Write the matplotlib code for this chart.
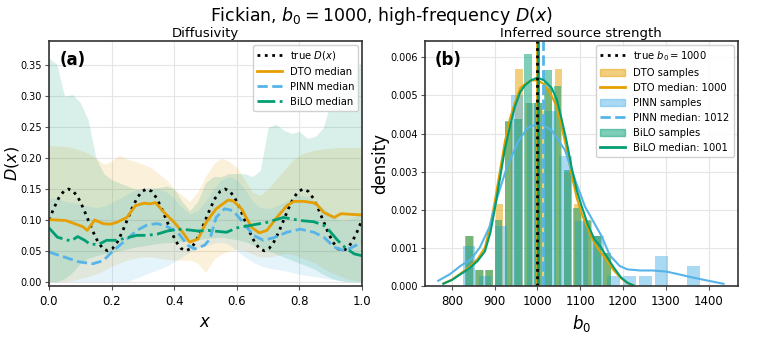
import numpy as np
import matplotlib.pyplot as plt
from matplotlib.patches import Patch
from matplotlib.lines import Line2D

c_dto = '#E69F00'
c_pinn = '#56B4E9'
c_bilo = '#009E73'

# ---- panel (a): diffusivity ----
x_true = np.linspace(0, 1, 65)
D_true = [0.1, 0.1191, 0.1354, 0.1462, 0.15, 0.1462, 0.1354, 0.1191, 0.1, 0.0809, 0.0646, 0.0538, 0.05, 0.0538, 0.0646, 0.0809,
          0.1, 0.1191, 0.1354, 0.1462, 0.15, 0.1462, 0.1354, 0.1191, 0.1, 0.0809, 0.0646, 0.0538, 0.05, 0.0538, 0.0646, 0.0809,
          0.1, 0.1191, 0.1354, 0.1462, 0.15, 0.1462, 0.1354, 0.1191, 0.1, 0.0809, 0.0646, 0.0538, 0.05, 0.0538, 0.0646, 0.0809,
          0.1, 0.1191, 0.1354, 0.1462, 0.15, 0.1462, 0.1354, 0.1191, 0.1, 0.0809, 0.0646, 0.0538, 0.05, 0.0538, 0.0646, 0.0809,
          0.1]

x_dto = [0, 0.054, 0.108, 0.122, 0.146, 0.173, 0.195, 0.216, 0.249, 0.276, 0.303, 0.324, 0.34, 0.368, 0.4, 0.427, 0.449,
         0.476, 0.502, 0.534, 0.572, 0.588, 0.615, 0.647, 0.672, 0.696, 0.728, 0.76, 0.782, 0.814, 0.852, 0.878, 0.911,
         0.933, 0.965, 1.0]
D_dto = [0.1005, 0.099, 0.089, 0.083, 0.1, 0.094, 0.093, 0.096, 0.104, 0.123, 0.127, 0.126, 0.128, 0.112, 0.096, 0.08, 0.064,
         0.069, 0.096, 0.118, 0.132, 0.131, 0.118, 0.088, 0.079, 0.083, 0.104, 0.123, 0.13, 0.13, 0.127, 0.112, 0.104,
         0.11, 0.109, 0.108]

x_pinn = [0, 0.054, 0.097, 0.14, 0.173, 0.205, 0.238, 0.281, 0.314, 0.346, 0.378, 0.411, 0.443, 0.465, 0.497, 0.514,
          0.534, 0.561, 0.588, 0.62, 0.653, 0.685, 0.717, 0.76, 0.803, 0.846, 0.878, 0.911, 0.944, 0.97, 1.0]
D_pinn = [0.048, 0.039, 0.032, 0.029, 0.034, 0.05, 0.064, 0.083, 0.092, 0.094, 0.089, 0.08, 0.059, 0.053, 0.059, 0.069,
          0.104, 0.118, 0.115, 0.096, 0.075, 0.067, 0.071, 0.08, 0.085, 0.08, 0.072, 0.056, 0.05, 0.056, 0.064]

x_bilo = [0, 0.027, 0.054, 0.07, 0.092, 0.114, 0.13, 0.157, 0.184, 0.216, 0.249, 0.281, 0.314, 0.346, 0.378, 0.411, 0.443,
          0.476, 0.508, 0.567, 0.6, 0.642, 0.696, 0.749, 0.771, 0.803, 0.846, 0.878, 0.895, 0.922, 0.944, 0.975, 1.0]
D_bilo = [0.087, 0.072, 0.068, 0.066, 0.073, 0.067, 0.061, 0.06, 0.067, 0.067, 0.071, 0.075, 0.075, 0.077, 0.082, 0.085, 0.084,
          0.082, 0.083, 0.08, 0.087, 0.091, 0.096, 0.104, 0.102, 0.099, 0.097, 0.091, 0.083, 0.067, 0.056, 0.045, 0.042]

x_band = np.linspace(0, 1, 41)
dto_hi = [0.22, 0.22, 0.219, 0.217, 0.213, 0.208, 0.2, 0.19, 0.195, 0.205, 0.198, 0.195, 0.19, 0.185, 0.175, 0.165, 0.15,
          0.14, 0.13, 0.145, 0.17, 0.19, 0.2, 0.195, 0.185, 0.165, 0.145, 0.14, 0.15, 0.165, 0.18, 0.195, 0.205, 0.21,
          0.213, 0.215, 0.216, 0.217, 0.217, 0.217, 0.217]
dto_lo = [0.0, 0.0, 0.0, 0.002, 0.005, 0.008, 0.012, 0.018, 0.025, 0.03, 0.035, 0.038, 0.04, 0.04, 0.038, 0.036, 0.035,
          0.035, 0.035, 0.03, 0.015, 0.035, 0.045, 0.05, 0.052, 0.05, 0.045, 0.04, 0.04, 0.042, 0.045, 0.045, 0.04, 0.035,
          0.03, 0.022, 0.015, 0.01, 0.005, 0.002, 0.0]
pinn_hi = [0.135, 0.135, 0.13, 0.128, 0.125, 0.122, 0.12, 0.122, 0.128, 0.135, 0.142, 0.148, 0.152, 0.153, 0.15, 0.145,
           0.135, 0.12, 0.11, 0.115, 0.13, 0.15, 0.165, 0.17, 0.165, 0.15, 0.13, 0.12, 0.118, 0.122, 0.128, 0.135, 0.14,
           0.138, 0.13, 0.12, 0.11, 0.1, 0.1, 0.105, 0.11]
pinn_lo = [0.0, 0.0, 0.0, 0.0, 0.0, 0.0, 0.0, 0.0, 0.0, 0.0, 0.0, 0.005, 0.01, 0.015, 0.02, 0.025, 0.032, 0.04, 0.048,
           0.054, 0.058, 0.062, 0.064, 0.06, 0.05, 0.04, 0.032, 0.026, 0.022, 0.02, 0.018, 0.015, 0.012, 0.01, 0.008,
           0.006, 0.004, 0.002, 0.0, 0.0, 0.0]
bilo_hi = [0.362, 0.352, 0.3, 0.303, 0.29, 0.262, 0.2, 0.175, 0.165, 0.16, 0.155, 0.15, 0.148, 0.15, 0.152, 0.155, 0.15,
           0.13, 0.115, 0.13, 0.16, 0.17, 0.17, 0.175, 0.175, 0.175, 0.17, 0.18, 0.25, 0.255, 0.245, 0.24, 0.243, 0.232,
           0.235, 0.248, 0.29, 0.305, 0.315, 0.33, 0.36]
bilo_lo = [0.0, 0.0, 0.005, 0.015, 0.03, 0.038, 0.042, 0.045, 0.047, 0.05, 0.053, 0.056, 0.058, 0.06, 0.062, 0.063, 0.064,
           0.065, 0.066, 0.068, 0.07, 0.071, 0.072, 0.07, 0.068, 0.065, 0.06, 0.055, 0.05, 0.045, 0.04, 0.035, 0.03, 0.025,
           0.02, 0.012, 0.006, 0.002, 0.0, 0.0, 0.0]

# ---- panel (b): source strength ----
b0_true = 1000
med_dto, med_pinn, med_bilo = 1000, 1012, 1001

bins_dto = [842, 865, 888, 911, 934, 957, 980, 1003, 1026, 1049, 1072, 1095, 1118, 1141, 1164]
h_dto = [0.0013, 0.0004, 0.0004, 0.00215, 0.0043, 0.0057, 0.0048, 0.0048, 0.0052, 0.0057, 0.0030, 0.00216, 0.0017,
         0.0013, 0.00085]
bins_pinn = [840, 877.5, 915, 952.5, 990, 1027.5, 1065, 1102.5, 1140, 1177.5, 1215, 1252.5, 1290, 1327.5, 1365]
h_pinn = [0.00104, 0.00025, 0.00158, 0.005, 0.0048, 0.0046, 0.0034, 0.0017, 0.0013, 0.00025, 0.00025, 0.00025, 0.00078,
          0.0, 0.00052]
bins_bilo = [840, 863, 886, 909, 932, 955, 978, 1001, 1024, 1047, 1070, 1093, 1116, 1139, 1162]
h_bilo = [0.0013, 0.00041, 0.00041, 0.00172, 0.00434, 0.00438, 0.0061, 0.0048, 0.00568, 0.00525, 0.00303, 0.00205,
          0.00172, 0.0013, 0.00085]

kde_x = [780, 800, 820, 840, 860, 877, 890, 900, 912, 924, 936, 947, 960, 971, 985, 1000, 1015, 1033, 1045, 1056, 1068,
         1080, 1092, 1103, 1118, 1134, 1146, 1160, 1177, 1195, 1210, 1224]
kde_dto = [0.00006, 0.00016, 0.00032, 0.00048, 0.0007, 0.001, 0.0016, 0.0022, 0.003, 0.0038, 0.0044, 0.0048, 0.0052,
           0.0053, 0.0054, 0.0054, 0.0053, 0.005, 0.0047, 0.0042, 0.0036, 0.0029, 0.0023, 0.0019, 0.0015, 0.0011, 0.0009,
           0.0007, 0.00042, 0.0002, 0.00007, 0.00001]
kde_bilo = [0.00005, 0.00015, 0.0003, 0.00045, 0.00065, 0.0009, 0.0014, 0.002, 0.0028, 0.0036, 0.0042, 0.0047, 0.0051,
            0.00527, 0.0054, 0.00547, 0.0054, 0.0052, 0.0049, 0.0044, 0.0038, 0.0031, 0.0025, 0.0021, 0.0016, 0.0012,
            0.00105, 0.0008, 0.0005, 0.00022, 0.00008, 0.00001]
kde_pinn_x = [768, 795, 820, 845, 865, 888, 904, 928, 955, 978, 1005, 1033, 1064, 1088, 1111, 1135, 1150, 1169, 1192,
              1210, 1240, 1270, 1302, 1330, 1357, 1395, 1435]
kde_pinn = [0.00013, 0.0003, 0.00052, 0.0007, 0.001, 0.00155, 0.00225, 0.0031, 0.0038, 0.00416, 0.00427, 0.00409,
            0.00357, 0.00278, 0.00208, 0.0016, 0.0013, 0.0008, 0.00052, 0.00043, 0.0004, 0.0004, 0.00037, 0.0003,
            0.00023, 0.00014, 0.00005]

plt.rcParams['font.family'] = 'DejaVu Sans'
fig = plt.figure(figsize=(7.62, 3.5), dpi=100)
ax1 = fig.add_axes([0.0643, 0.1837, 0.4108, 0.70])
ax2 = fig.add_axes([0.5577, 0.1837, 0.4104, 0.70])

for ax in (ax1, ax2):
    ax.grid(True, color='#e5e5e5', lw=0.8)
    ax.set_axisbelow(True)
    for s in ax.spines.values():
        s.set_color('#333333')
        s.set_linewidth(1.2)
    ax.tick_params(labelsize=7, length=3, color='#555555')
    ax.tick_params(axis='y', pad=2)
    ax.tick_params(axis='x', labelsize=8.5)

ax1.fill_between(x_band, dto_lo, dto_hi, color=c_dto, alpha=0.15, lw=0)
ax1.fill_between(x_band, pinn_lo, pinn_hi, color=c_pinn, alpha=0.15, lw=0)
ax1.fill_between(x_band, bilo_lo, bilo_hi, color=c_bilo, alpha=0.15, lw=0)
ax1.plot(x_true, D_true, ':', color='black', lw=2, label='true $D(x)$')
ax1.plot(x_dto, D_dto, '-', color=c_dto, lw=2, label='DTO median')
ax1.plot(x_pinn, D_pinn, '--', color=c_pinn, lw=2, label='PINN median')
ax1.plot(x_bilo, D_bilo, '-.', color=c_bilo, lw=2, label='BiLO median')
ax1.set_xlim(0, 1)
ax1.set_ylim(-0.0065, 0.39)
ax1.set_yticks(np.arange(0, 0.36, 0.05))
ax1.set_xlabel('$x$', fontsize=12)
ax1.set_ylabel('$D(x)$', fontsize=11.5)
ax1.yaxis.set_label_coords(-0.088, 0.5)
ax1.set_title('Diffusivity', fontsize=9.5, pad=3)
ax1.text(0.035, 0.92, '(a)', transform=ax1.transAxes, fontsize=12, fontweight='bold', va='center')
ax1.legend(loc='upper right', fontsize=7.2, framealpha=0.9, handlelength=2.5, borderaxespad=0.4)

ax2.bar(bins_dto, h_dto, width=23 * 0.78, color=c_dto, alpha=0.5, lw=0)
ax2.axvline(med_dto, color=c_dto, lw=2)
ax2.plot(kde_x, kde_dto, color=c_dto, lw=1.5)
ax2.bar(bins_pinn, h_pinn, width=37.5 * 0.78, color=c_pinn, alpha=0.5, lw=0)
ax2.axvline(med_pinn, color=c_pinn, lw=2, ls='--')
ax2.plot(kde_pinn_x, kde_pinn, color=c_pinn, lw=1.5)
ax2.bar(bins_bilo, h_bilo, width=23 * 0.78, color=c_bilo, alpha=0.5, lw=0)
ax2.axvline(med_bilo, color=c_bilo, lw=2)
ax2.plot(kde_x, kde_bilo, color=c_bilo, lw=1.5)
ax2.axvline(b0_true, color='black', lw=2, ls=':')
ax2.set_xlim(737, 1468)
ax2.set_ylim(0, 0.00644)
ax2.set_xticks(range(800, 1401, 100))
ax2.set_yticks(np.arange(0, 0.0061, 0.001))
ax2.yaxis.set_major_formatter(plt.FormatStrFormatter('%.3f'))
ax2.set_xlabel('$b_0$', fontsize=12)
ax2.set_ylabel('density', fontsize=12)
ax2.yaxis.set_label_coords(-0.115, 0.5)
ax2.set_title('Inferred source strength', fontsize=9.5, pad=3)
ax2.text(0.032, 0.92, '(b)', transform=ax2.transAxes, fontsize=12, fontweight='bold', va='center')

handles = [Line2D([], [], color='black', ls=':', lw=2),
           Patch(color=c_dto, alpha=0.5), Line2D([], [], color=c_dto, lw=2),
           Patch(color=c_pinn, alpha=0.5), Line2D([], [], color=c_pinn, lw=2, ls='--'),
           Patch(color=c_bilo, alpha=0.5), Line2D([], [], color=c_bilo, lw=2)]
labels = ['true $b_0 = 1000$', 'DTO samples', f'DTO median: {med_dto}', 'PINN samples',
          f'PINN median: {med_pinn}', 'BiLO samples', f'BiLO median: {med_bilo}']
ax2.legend(handles, labels, loc='upper right', fontsize=7.2, framealpha=0.9, handlelength=2.5, borderaxespad=0.4)

fig.suptitle('Fickian, $b_0 = 1000$, high-frequency $D(x)$', fontsize=12.5, y=0.985)
fig.savefig('out.png', dpi=100)
